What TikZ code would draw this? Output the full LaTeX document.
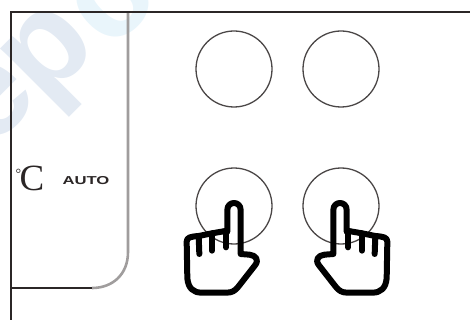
\documentclass[tikz,border=0pt]{standalone}
\usepackage{fontspec}
\setmainfont{Liberation Sans}
\newfontfamily\serifc{Liberation Serif}
\definecolor{wmA}{HTML}{E3EAF3}
\definecolor{wmB}{HTML}{E9F5FB}
\definecolor{ink}{HTML}{2B2626}
\tikzset{
  panelline/.style={draw=ink,line width=1.8pt},
  softline/.style={draw=ink!45,line width=2.6pt},
  btn/.style={circle,draw=ink!85,line width=1.3pt,minimum size=76pt,inner sep=0pt},
  handline/.style={draw=black,line width=6pt,line join=round,line cap=round},
  wm/.style={font=\bfseries\fontsize{132}{132}\selectfont,rotate=45,inner sep=0pt}
}
\newcommand{\handicon}[3]{%
 \begin{scope}[shift={(#1,#2)},x=#3*0.3333pt,y=-0.3333pt]
  \draw[handline] (172,215) -- (172,150) .. controls (172,122) and (212,122) .. (212,150)
     -- (212,282) -- (238,284) .. controls (258,286) and (268,300) .. (255,316)
     -- (205,380) .. controls (195,393) and (185,398) .. (170,398)
     -- (95,398) .. controls (70,398) and (55,385) .. (52,355)
     -- (50,245) .. controls (50,232) and (62,230) .. (86,228) -- (126,220) -- (172,212);
  \draw[handline] (86,228) -- (88,282);
  \draw[handline] (126,220) -- (126,272);
  \draw[handline] (168,212) -- (168,262);
 \end{scope}}
\begin{document}
\begin{tikzpicture}[x=1pt,y=-1pt]
\useasboundingbox (0,0) rectangle (470,320);
\begin{scope}
\clip (0,0) rectangle (470,320);
\node[wm,text=wmA] (wme) at (-8,100) {e};
\node[wm,text=wmA] (wmp) at (57,60) {p};
\node[wm,text=wmB] (wmo) at (112,2) {c};
\end{scope}
\draw[softline] (128,12) -- (128,252) .. controls (128,275) and (112,288) .. (92,288);
\draw[panelline] (92,288) -- (11,288);
\draw[panelline] (470,12) -- (11,12) -- (11,320);
\node[btn] (b1) at (234,69) {};
\node[btn] (b2) at (341,69) {};
\node[btn] (b3) at (234,206) {};
\node[btn] (b4) at (341,206) {};
\handicon{170}{160}{1}
\handicon{404}{160}{-1}
\node[inner sep=0pt,text=ink] (deg) at (30,178) {\serifc\raisebox{12pt}{\fontsize{14}{14}\selectfont °}\kern-1.5pt\fontsize{37}{37}\selectfont C};
\node[inner sep=0pt,text=ink,xscale=1.45] (auto) at (86,181) {\bfseries\fontsize{11.5}{12}\selectfont AUTO};
\end{tikzpicture}
\end{document}
